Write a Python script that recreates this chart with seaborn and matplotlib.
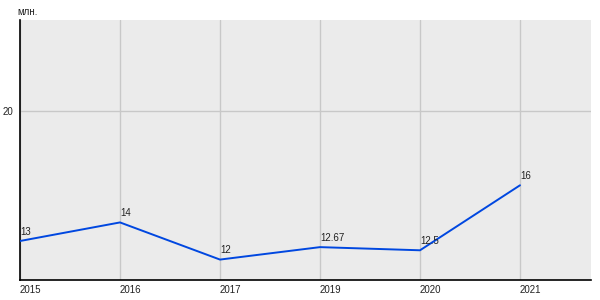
import matplotlib
matplotlib.use("Agg")
import matplotlib.pyplot as plt
import seaborn as sns
import pandas as pd

years = ["2015", "2016", "2017", "2019", "2020", "2021"]
values = [13, 14, 12, 12.67, 12.5, 16]
labels = ["13", "14", "12", "12.67", "12.5", "16"]
y_ticks = [20]
unit_label = "млн."

sns.set_style("white")
plt.rcParams["font.family"] = ["Liberation Sans", "DejaVu Sans"]

df = pd.DataFrame({"year": years, "value": values})

fig = plt.figure(figsize=(6, 3), dpi=100)
ax = fig.add_axes([20 / 600, 20 / 300, 571 / 600, 260 / 300])
ax.set_facecolor("#ebebeb")

sns.lineplot(data=df, x="year", y="value", sort=False, ax=ax,
             color="#0047e0", linewidth=1.4, zorder=3)

ax.set_xlim(0, 5.71)
ax.set_ylim(10.9, 24.9)
ax.set_yticks(y_ticks)
ax.set_yticklabels([str(t) for t in y_ticks])
ax.set_xlabel("")
ax.set_ylabel("")

ax.grid(True, color="#c8c8c8", linewidth=1, zorder=0)
ax.set_axisbelow(True)

for s in ["top", "right"]:
    ax.spines[s].set_visible(False)
for s in ["left", "bottom"]:
    ax.spines[s].set_color("black")
    ax.spines[s].set_linewidth(1.2)

ax.tick_params(axis="x", length=0, pad=3.5, labelsize=7, colors="#222222")
ax.tick_params(axis="y", length=3, width=1, pad=2, labelsize=7, colors="#222222")
ax.tick_params(axis="y", color="black")
for lbl in ax.get_xticklabels():
    lbl.set_horizontalalignment("left")

for i, (v, t) in enumerate(zip(values, labels)):
    ax.annotate(t, (i, v), xytext=(0, 3), textcoords="offset points",
                ha="left", va="bottom", fontsize=7, color="#222222", zorder=4)

fig.text(17 / 600, 1 - 12 / 300, unit_label, ha="left", va="center",
         fontsize=7, color="#222222")

fig.savefig("out.png", dpi=100)
